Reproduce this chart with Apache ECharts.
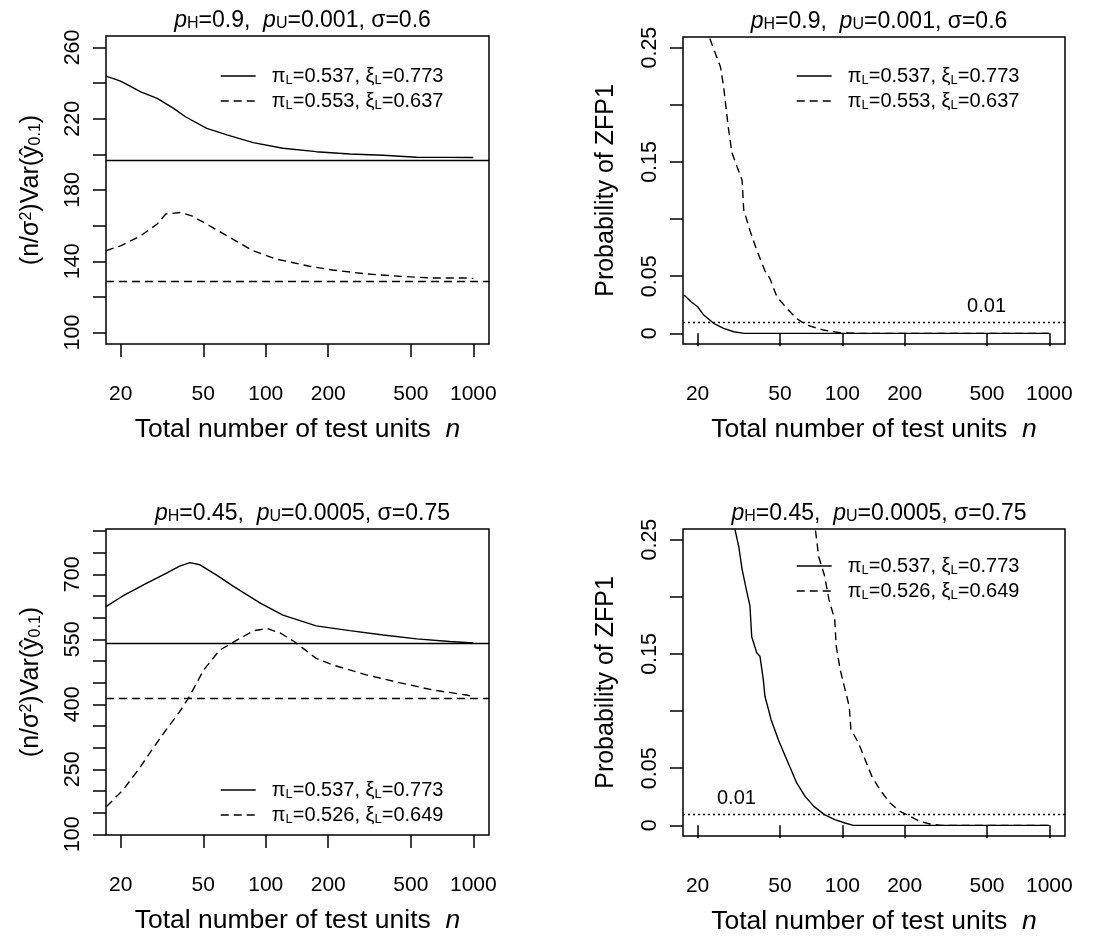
<!DOCTYPE html>
<html>
<head>
<meta charset="utf-8">
<script src="https://cdn.jsdelivr.net/npm/echarts@6/dist/echarts.min.js"></script>
<style>
  html, body { margin: 0; background: #fff; }
  #chart { width: 1112px; height: 942px; }
</style>
</head>
<body>
<div id="chart"></div>
<script>
// x ticks shared by all four panels (log scale)
const xTicks = [20, 50, 100, 200, 500, 1000];

// top-left: (n/sigma^2) Var, p_H=0.9
const n1Solid = [17, 20, 25, 30, 36, 41, 52, 65, 87, 121, 175, 254, 368, 533, 750, 1000];
const v1Solid = [243.9, 241.1, 235.1, 231.4, 225.8, 221.1, 214.6, 210.9, 206.6, 203.4, 201.5, 200.2, 199.5, 198.4, 198.3, 198.2];
const n1Dash = [17, 20, 25, 30, 33, 39, 44, 52, 65, 87, 112, 163, 210, 305, 440, 640, 925, 1000];
const v1Dash = [145.9, 148.7, 154.3, 160.9, 166.5, 167.4, 165.5, 160.9, 154.3, 145.9, 141.3, 137.2, 135.1, 132.9, 131.6, 130.6, 130.6, 130.4];
const ref1 = [196.6, 128.6];
const y1Ticks = [100, 120, 140, 160, 180, 200, 220, 240, 260];
const y1Labels = [100, 140, 180, 220, 260];

// top-right: probability of ZFP1, p_H=0.9
const n2Solid = [17.2, 18.6, 20, 21.4, 23.9, 26.7, 29.9, 33.6, 100, 1000];
const v2Solid = [0.0335, 0.0277, 0.0233, 0.016, 0.0088, 0.0044, 0.0014, 0, 0, 0];
const n2Dash = [22.9, 25.8, 26.7, 28.1, 29.3, 32.8, 33.4, 35.8, 38.6, 42.2, 44.7, 48.3, 53.9, 60.1, 67.3, 81, 97.7, 120, 200, 500, 1000];
const v2Dash = [0.258, 0.233, 0.216, 0.181, 0.158, 0.134, 0.108, 0.09, 0.073, 0.055, 0.048, 0.032, 0.022, 0.013, 0.0073, 0.0029, 0.0005, 0, 0, 0, 0];

// bottom-left: (n/sigma^2) Var, p_H=0.45
const n3Solid = [16.9, 20.5, 26.6, 33.1, 38.5, 43.1, 48.2, 58, 69.9, 94.6, 121, 175, 254, 368, 533, 770, 1000];
const v3Solid = [625, 650, 679, 702, 719, 727, 722, 698, 672, 633, 606, 581, 570, 560, 551, 545, 541.5];
const n3Dash = [17.1, 20.5, 24.6, 28.3, 33.1, 38.5, 43.1, 50.2, 60, 72.6, 87.4, 101.7, 118, 137, 175, 210, 305, 440, 640, 925, 1000];
const v3Dash = [164, 202, 252, 295, 341, 383, 420, 479, 525, 548, 570, 575, 564, 545, 506, 491, 468, 450, 433, 421.5, 418];
const ref3 = [540, 413.8];
const y3Ticks = [100, 150, 200, 250, 300, 350, 400, 450, 500, 550, 600, 650, 700, 750, 800];
const y3Labels = [100, 250, 400, 550, 700];

// bottom-right: probability of ZFP1, p_H=0.45
const n4Solid = [30.3, 31.6, 32.8, 34.7, 35.8, 36.5, 38.6, 40, 41.5, 42.3, 45.3, 49.1, 53, 56.1, 60.2, 66.1, 72.9, 81.9, 91.9, 103, 113, 200, 1000];
const v4Solid = [0.259, 0.244, 0.224, 0.203, 0.192, 0.165, 0.151, 0.148, 0.128, 0.113, 0.0925, 0.075, 0.0604, 0.0502, 0.0371, 0.0254, 0.0166, 0.0094, 0.005, 0.0021, 0, 0, 0];
const n4Dash = [74.2, 76.9, 81.9, 86.2, 91.9, 93.4, 97.7, 103.4, 108, 110, 119.8, 128.9, 138.8, 152.2, 170, 190, 212, 237, 265, 300, 1000];
const v4Dash = [0.258, 0.235, 0.219, 0.1975, 0.18, 0.157, 0.136, 0.118, 0.104, 0.084, 0.072, 0.0575, 0.043, 0.031, 0.0196, 0.0123, 0.0079, 0.0035, 0.0012, 0, 0];
const probTicks = [0, 0.05, 0.1, 0.15, 0.2, 0.25];
const probLabels = [0, 0.05, 0.15, 0.25];
const threshold = 0.01;

const titles = ['{i|p}{s|H}=0.9,  {i|p}{s|U}=0.001, σ=0.6', '{i|p}{s|H}=0.45,  {i|p}{s|U}=0.0005, σ=0.75'];
const legendTop = ['πL=0.537, ξL=0.773', 'πL=0.553, ξL=0.637'];
const legendBottom = ['πL=0.537, ξL=0.773', 'πL=0.526, ξL=0.649'];

const FONT = '"Liberation Sans", Arial, Helvetica, sans-serif';
const DASH = [8, 5];

const zip = (xs, ys) => xs.map((x, i) => [x, ys[i]]);

const grids = [
  { left: 106, top: 36, width: 383, height: 308 },
  { left: 683, top: 37, width: 382, height: 307 },
  { left: 106, top: 529, width: 383, height: 306 },
  { left: 683, top: 529, width: 382, height: 307 }
];

function xAxis(i) {
  return {
    type: 'log', logBase: 10, gridIndex: i, min: 17, max: 1190,
    name: 'Total number of test units  {i|n}', nameLocation: 'middle', nameGap: 72,
    nameTextStyle: { fontSize: 26.5, color: '#000', rich: { i: { fontStyle: 'italic', fontSize: 26.5 } } },
    axisLine: { show: false },
    axisTick: { show: true, inside: false, length: 13, customValues: xTicks, lineStyle: { color: '#000', width: 1.5 } },
    axisLabel: { customValues: xTicks, margin: 40, fontSize: 21, color: '#000', formatter: v => String(v) },
    splitLine: { show: false }, minorTick: { show: false }
  };
}

function yAxis(i, min, max, ticks, labels, name, gap) {
  return {
    type: 'value', gridIndex: i, min: min, max: max,
    name: name, nameLocation: 'middle', nameGap: gap,
    nameTextStyle: {
      fontSize: 25, color: '#000',
      rich: {
        u: { fontSize: 16, verticalAlign: 'top', lineHeight: 12 },
        s: { fontSize: 16, verticalAlign: 'bottom', lineHeight: 10 }
      }
    },
    axisLine: { show: false },
    axisTick: { show: true, inside: false, length: 13, customValues: ticks, lineStyle: { color: '#000', width: 1.5 } },
    axisLabel: { customValues: labels, rotate: 90, margin: 22, fontSize: 21.5, color: '#000', formatter: v => String(v) },
    splitLine: { show: false }
  };
}

function title(i, text) {
  const g = grids[i];
  return {
    text: text, left: g.left + g.width / 2, top: g.top - 32, textAlign: 'center',
    textStyle: {
      fontSize: 23, fontWeight: 'normal', color: '#000',
      rich: {
        i: { fontStyle: 'italic', fontSize: 23 },
        s: { fontSize: 16, verticalAlign: 'bottom', lineHeight: 10 }
      }
    }
  };
}

function legend(names, left, top) {
  return {
    data: names, orient: 'vertical', left: left, top: top, padding: 0, itemGap: 3,
    itemWidth: 35, itemHeight: 14,
    itemStyle: { opacity: 0 },
    lineStyle: { color: '#000', width: 1.4 },
    formatter: name => name.replace(/L=/g, '{s|L}='),
    textStyle: {
      fontSize: 20, color: '#000', lineHeight: 22, padding: [0, 0, 0, 11],
      rich: { s: { fontSize: 13, verticalAlign: 'bottom', lineHeight: 9 } }
    }
  };
}

function curve(name, i, xs, ys, dashed, refVal, extra) {
  const s = {
    name: name, type: 'line', xAxisIndex: i, yAxisIndex: i,
    data: zip(xs, ys), showSymbol: false, symbol: 'none', silent: true,
    lineStyle: { color: '#000', width: 1.4, type: dashed ? DASH : 'solid' },
    itemStyle: { color: '#000' }
  };
  if (refVal !== undefined) {
    s.markLine = {
      silent: true, symbol: 'none', animation: false,
      label: { show: false },
      lineStyle: { color: '#000', width: 1.4, type: dashed ? DASH : 'solid' },
      data: [{ yAxis: refVal }]
    };
  }
  if (extra) s.markLine = extra;
  return s;
}

function thresholdLine(pos, pad) {
  return {
    silent: true, symbol: 'none', animation: false,
    lineStyle: { color: '#000', width: 1.4, type: [2, 3] },
    label: { show: true, formatter: '0.01', position: pos, fontSize: 20, color: '#000', padding: pad },
    data: [{ yAxis: threshold }]
  };
}

const yNameVar = '(n/σ{u|2})Var(ŷ{s|0.1})';
const yNameProb = 'Probability of ZFP1';

const chart = echarts.init(document.getElementById('chart'));
chart.setOption({
  animation: false,
  textStyle: { fontFamily: FONT },
  title: [title(0, titles[0]), title(1, titles[0]), title(2, titles[1]), title(3, titles[1])],
  grid: grids.map(g => Object.assign({ show: true, borderColor: '#000', borderWidth: 1.5, backgroundColor: 'transparent' }, g)),
  legend: [
    legend(legendTop, 220, 65),
    legend(legendTop, 796, 65),
    legend(legendBottom, 220, 779),
    legend(legendBottom, 796, 555)
  ],
  xAxis: [xAxis(0), xAxis(1), xAxis(2), xAxis(3)],
  yAxis: [
    yAxis(0, 93.6, 266.4, y1Ticks, y1Labels, yNameVar, 62),
    yAxis(1, -0.0093, 0.2593, probTicks, probLabels, yNameProb, 64),
    yAxis(2, 98.4, 804.6, y3Ticks, y3Labels, yNameVar, 62),
    yAxis(3, -0.0093, 0.2593, probTicks, probLabels, yNameProb, 64)
  ],
  series: [
    curve(legendTop[0], 0, n1Solid, v1Solid, false, ref1[0]),
    curve(legendTop[1], 0, n1Dash, v1Dash, true, ref1[1]),
    curve(legendTop[0], 1, n2Solid, v2Solid, false, undefined, thresholdLine('insideEndTop', [0, 54, 0, 0])),
    curve(legendTop[1], 1, n2Dash, v2Dash, true),
    curve(legendBottom[0], 2, n3Solid, v3Solid, false, ref3[0]),
    curve(legendBottom[1], 2, n3Dash, v3Dash, true, ref3[1]),
    curve(legendBottom[0], 3, n4Solid, v4Solid, false, undefined, thresholdLine('insideStartTop', [0, 0, 0, 29])),
    curve(legendBottom[1], 3, n4Dash, v4Dash, true)
  ]
});
</script>
</body>
</html>
